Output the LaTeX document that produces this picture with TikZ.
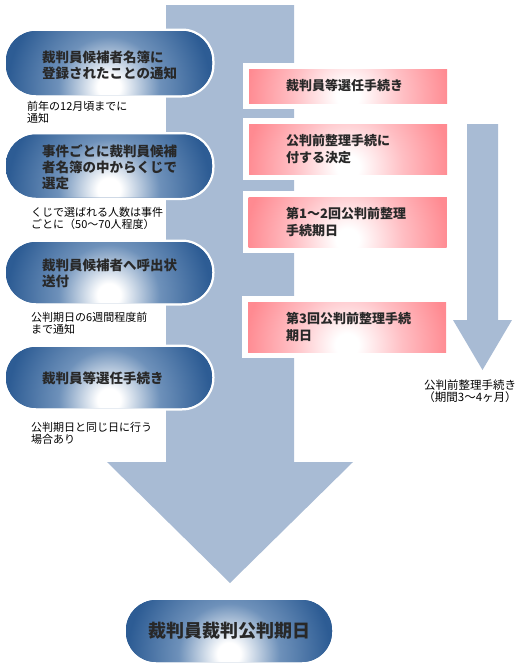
\documentclass[tikz,border=0pt]{standalone}
\usepackage{fontspec}
\setmainfont{Noto Sans CJK JP}
\usetikzlibrary{calc}
\definecolor{shaftc}{RGB}{168,187,212}
\definecolor{pilldark}{RGB}{45,92,148}
\definecolor{pillmid}{RGB}{110,145,186}
\definecolor{pinkc}{RGB}{255,138,145}
\definecolor{pinkmid}{RGB}{255,190,195}
\definecolor{txtc}{RGB}{40,40,40}
\pgfdeclareradialshading{pillrad}{\pgfpoint{0bp}{0bp}}{color(0bp)=(white); color(2.5bp)=(white); color(11bp)=(pillmid); color(22bp)=(pilldark); color(50bp)=(pilldark)}
\pgfdeclareradialshading{pinkrad}{\pgfpoint{0bp}{0bp}}{color(0bp)=(white); color(2.5bp)=(white); color(12bp)=(pinkmid); color(22bp)=(pinkc); color(50bp)=(pinkc)}
\tikzset{
 pill/.style={shape=rectangle, rounded corners=30pt, fill=pilldark, minimum width=206pt,
   minimum height=63pt, inner sep=0pt, preaction={draw=white, line width=5pt},
   path picture={\shade[shading=pillrad] ($(path picture bounding box.south)+(0,-8)$) circle (115pt);}},
 pinkbox/.style={shape=rectangle, fill=pinkc, minimum width=198pt, minimum height=50pt,
   inner sep=0pt, preaction={draw=white, line width=12pt},
   path picture={\shade[shading=pinkrad] ($(path picture bounding box.south)+(0,-7)$) circle (115pt);}},
 pilltxt/.style={font=\bfseries\fontsize{13.5}{16}\selectfont, text=txtc, align=left, anchor=west, inner sep=0pt},
 pinktxt/.style={font=\bfseries\fontsize{13}{17}\selectfont, text=txtc, align=left, anchor=west, inner sep=0pt},
 notetxt/.style={font=\fontsize{11}{12}\selectfont, text=black, align=left, anchor=west, inner sep=0pt},
}
\begin{document}
\begin{tikzpicture}[x=1pt,y=-1pt]
\useasboundingbox (0,0) rectangle (516,667);
% main arrow
\fill[shaftc] (166,5) -- (294,5) -- (294,462) -- (353,462) -- (230,583) -- (107,462) -- (166,462) -- cycle;
% small arrow
\fill[shaftc] (467,124) -- (498,124) -- (498,320) -- (512,320) -- (482.5,370) -- (453,320) -- (467,320) -- cycle;
% pink boxes
\node[pinkbox, minimum height=34pt] (b1) at (348,86) {};
\node[pinkbox] (b2) at (348,149) {};
\node[pinkbox] (b3) at (347.5,222) {};
\node[pinkbox] (b4) at (347,327) {};
\node[pinktxt] (pt1) at (286,85.5) {裁判員等選任手続き};
\node[pinktxt] (pt2) at (286,149) {公判前整理手続に\\付する決定};
\node[pinktxt] (pt3) at (286,222.5) {第1～2回公判前整理\\手続期日};
\node[pinktxt] (pt4) at (286,327.5) {第3回公判前整理手続\\期日};
% pills
\node[pill, minimum height=64pt] (p1) at (109,63) {};
\node[pill] (p2) at (109,166) {};
\node[pill, minimum height=61pt] (p3) at (109,272.5) {};
\node[pill, minimum height=61pt] (p4) at (109,377.5) {};
\node[pilltxt] (t1) at (42,65) {裁判員候補者名簿に\\登録されたことの通知};
\node[pilltxt] (t2) at (42,167) {事件ごとに裁判員候補\\者名簿の中からくじで\\選定};
\node[pilltxt] (t3) at (42,273) {裁判員候補者へ呼出状\\送付};
\node[pilltxt] (t4) at (42,378) {裁判員等選任手続き};
% notes
\node[notetxt] (n1) at (27,112) {前年の12月頃までに\\通知};
\node[notetxt] (n2) at (31,218) {くじで選ばれる人数は事件\\ごとに（50～70人程度）};
\node[notetxt] (n3) at (31,323.5) {公判期日の6週間程度前\\まで通知};
\node[notetxt] (n4) at (31,433.5) {公判期日と同じ日に行う\\場合あり};
\node[notetxt, anchor=center, align=center, font=\fontsize{11.5}{11.5}\selectfont] (n5) at (470,391) {公判前整理手続き\\（期間3～4ヶ月）};
% final
\node[pill, minimum height=62pt, text=txtc, font=\bfseries\fontsize{18}{20}\selectfont] (fin) at (229,631) {裁判員裁判公判期日};
\end{tikzpicture}
\end{document}
